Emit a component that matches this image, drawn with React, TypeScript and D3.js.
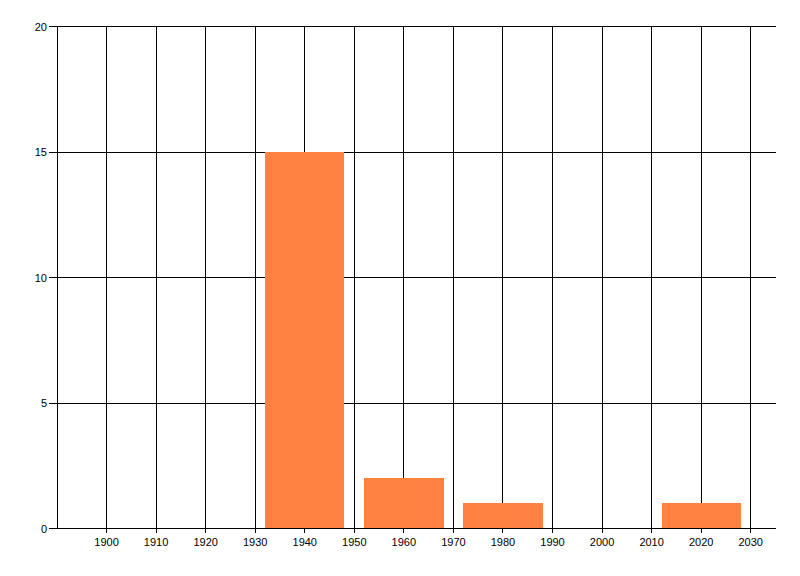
import { useEffect, useRef } from "react";
import * as d3 from "d3";

const binCenters = [1940, 1960, 1980, 2020];
const binCounts = [15, 2, 1, 1];
const binWidth = 16;
const xTicks = [1900, 1910, 1920, 1930, 1940, 1950, 1960, 1970, 1980, 1990, 2000, 2010, 2020, 2030];
const yTicks = [0, 5, 10, 15, 20];

const width = 800, height = 576;
const left = 57, right = 775.5, top = 26.5, bottom = 528.5;

const App = () => {
  const ref = useRef(null);

  useEffect(() => {
    const svg = d3
      .select(ref.current)
      .append("svg")
      .attr("width", width)
      .attr("height", height)
      .style("display", "block")
      .style("position", "absolute")
      .style("left", "0px")
      .style("top", "0px")
      .style("font-family", "'Liberation Sans', Arial, sans-serif")
      .style("font-size", "11px");

    const x = d3.scaleLinear().domain([1890, 2035]).range([left, right]);
    const y = d3.scaleLinear().domain([0, 20]).range([bottom, top]);

    const grid = svg.append("g").attr("stroke", "#000").attr("stroke-width", 1).attr("shape-rendering", "crispEdges");

    // vertical grid lines with ticks below the axis
    grid.selectAll("line.v")
      .data(xTicks)
      .join("line")
      .attr("x1", d => Math.floor(x(d)) + 0.5)
      .attr("x2", d => Math.floor(x(d)) + 0.5)
      .attr("y1", y(20))
      .attr("y2", y(0) + 4);

    // horizontal grid lines with ticks left of the axis
    grid.selectAll("line.h")
      .data(yTicks)
      .join("line")
      .attr("x1", left - 8)
      .attr("x2", right + 0.5)
      .attr("y1", d => y(d))
      .attr("y2", d => y(d));

    // y axis
    grid.append("line")
      .attr("x1", left + 0.5).attr("x2", left + 0.5)
      .attr("y1", y(20)).attr("y2", y(0));

    // bars
    svg.append("g")
      .attr("fill", "#ff8142")
      .selectAll("rect")
      .data(binCenters.map((c, i) => ({ c, v: binCounts[i] })))
      .join("rect")
      .attr("x", d => Math.round(x(d.c - binWidth / 2)))
      .attr("width", d => Math.round(x(d.c + binWidth / 2)) - Math.round(x(d.c - binWidth / 2)))
      .attr("y", d => y(d.v) - 0.5)
      .attr("height", d => y(0) - y(d.v))
      .attr("shape-rendering", "crispEdges");

    // redraw baseline over bars
    svg.append("line")
      .attr("stroke", "#000").attr("shape-rendering", "crispEdges")
      .attr("x1", left - 8).attr("x2", right + 0.5)
      .attr("y1", y(0)).attr("y2", y(0));

    svg.append("g")
      .selectAll("text")
      .data(xTicks)
      .join("text")
      .attr("x", d => x(d))
      .attr("y", y(0) + 17)
      .attr("text-anchor", "middle")
      .text(d => d);

    svg.append("g")
      .selectAll("text")
      .data(yTicks)
      .join("text")
      .attr("x", left - 10)
      .attr("y", d => y(d) + 4)
      .attr("text-anchor", "end")
      .text(d => d);

    return () => {
      d3.select(ref.current).select("svg").remove();
    };
  }, []);

  return <div ref={ref}></div>;
};

export default App;
